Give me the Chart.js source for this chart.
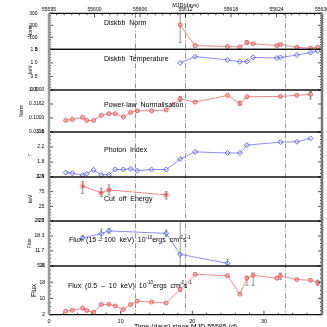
<!DOCTYPE html>
<html>
<head>
<meta charset="utf-8">
<script src="https://cdn.jsdelivr.net/npm/chart.js@4.4.1/dist/chart.umd.min.js"></script>
<style>
  html, body { margin: 0; padding: 0; background: #fff; overflow: hidden; }
  #wrap { position: relative; width: 327px; height: 327px; }
</style>
</head>
<body>
<div id="wrap"><canvas id="c" width="327" height="327"></canvas></div>
<script>
(function () {
  'use strict';

  // ---- Data (days since MJD 55595) ----
  var N = null;
  var days = [2.33, 3.25, 4.70, 5.26, 6.23, 7.30, 8.37, 9.25, 10.37, 11.39, 12.32, 14.32,
              16.36, 18.31, 20.40, 24.92, 26.64, 27.62, 28.50, 31.80, 32.30, 34.60, 36.50, 37.50];

  var diskNorm    = [N, N, N, N, N, N, N, N, N, N, N, N, N, 203, 31, 23, 20, 57, 46, 31, 40, 17, 9, 17];
  var diskTemp    = [N, N, N, N, N, N, N, N, N, N, N, N, N, 1.00, 1.23, 1.11, 1.04, 1.05, 1.20, 1.18, 1.20, 1.29, 1.38, 1.44];
  var plNorm      = [0.082, 0.089, 0.105, 0.082, 0.082, 0.124, 0.143, 0.143, 0.109, 0.158, 0.182, 0.180,
                     0.193, 0.48, 0.37, 0.645, 0.33, 0.575, N, N, 0.59, 0.645, 0.70, N];
  var photonIndex = [1.52, 1.50, 1.45, 1.49, 1.59, 1.46, 1.46, 1.60, 1.60, 1.62, 1.57, 1.60,
                     1.60, 1.88, 2.07, 2.04, 2.04, 2.25, N, N, 2.33, 2.34, 2.43, N];
  var cutoffE     = [N, N, 94, N, N, 71, 81, N, N, N, N, N, 64, N, N, N, N, N, N, N, N, N, N, N];
  var hardFlux    = [N, N, 17.5, N, N, 19.4, 20.6, N, N, N, N, N, 19.5, 10.2, N, 6.2, N, N, N, N, N, N, N, N];
  var softFlux    = [3.7, 4.2, 5.2, 4.1, 3.2, 7.0, 7.2, 6.3, 4.6, 7.0, 8.7, 8.2,
                     7.8, 14.5, 21.9, 21.2, 12.1, 20.0, 21.4, 20.0, 21.2, 19.3, 19.0, 17.8];

  // error bars: [index into days, low, high]
  var diskNormErr = [[13, 57, 298], [17, 42, 72]];
  var plNormErr   = [[13, 0.39, 0.59], [16, 0.28, 0.40], [22, 0.48, 0.89]];
  var cutoffErr   = [[2, 69, 109], [5, 58, 86], [6, 64, 98], [12, 50, 75]];
  var hardFluxErr = [[2, 16.6, 18.5], [5, 17.2, 21.4], [6, 19.6, 21.6], [12, 18.2, 21.0], [13, -20, 40], [15, 5.4, 8.0]];
  var softFluxErr = [[13, 13.5, 16.8], [17, 16.5, 21.0], [18, 16.5, 22.5], [20, 19.4, 22.5], [23, 16.5, 19.0]];

  // ---- Tick values / labels ----
  var topTickLabels  = ['55595', '55600', '55606', '55612', '55618', '55624', '55630'];
  var bottomTicks    = [0, 10, 20, 30];
  var diskNormTicks  = [0, 100, 200, 300];
  var diskTempTicks  = [0, 0.5, 1.0, 1.5];
  var diskTempLabels = ['0.0', '0.5', '1.0', '1.5'];
  var plNormTicks    = [0.0316, 0.1, 0.3162, 1.0];
  var plNormLabels   = ['0.0316', '0.1000', '0.3162', '1.0000'];
  var gammaTicks     = [1.4, 1.8, 2.2, 2.6];
  var cutoffTicks    = [-25, 25, 75, 125];
  var hardFluxTicks  = [5.0, 11.7, 18.3, 25.0];
  var hardFluxLabels = ['5.0', '11.7', '18.3', '25.0'];
  var softFluxTicks  = [2, 10, 18, 26];
  var stateLines     = [12.0, 19.0, 33.0];

  // ---- Style ----
  var FAMILY = "'Liberation Sans', Arial, sans-serif";
  var RED_LINE = '#f28a8a', RED_PT = '#e0474c';
  var BLUE_LINE = '#8d8dff', BLUE_PT = '#4848e4';

  function pts(vals) {
    var out = [];
    for (var i = 0; i < days.length; i++) {
      if (vals[i] !== null) out.push({ x: days[i], y: vals[i] });
    }
    return out;
  }

  function redSet(vals, yId, style) {
    return {
      data: pts(vals), xAxisID: 'x', yAxisID: yId,
      borderColor: RED_LINE, borderWidth: 1, tension: 0, fill: false,
      pointStyle: style || 'circle', pointRadius: style ? 3 : 2,
      pointBorderColor: RED_PT, pointBackgroundColor: 'rgba(240,140,140,0.5)', pointBorderWidth: 0.8
    };
  }

  function blueSet(vals, yId) {
    return {
      data: pts(vals), xAxisID: 'x', yAxisID: yId,
      borderColor: BLUE_LINE, borderWidth: 1, tension: 0, fill: false,
      pointStyle: 'rectRot', pointRadius: 2.5,
      pointBorderColor: BLUE_PT, pointBackgroundColor: 'rgba(255,255,255,0)', pointBorderWidth: 0.8
    };
  }

  function fixY(scale) {
    scale.width = 49;
    scale.paddingTop = 0;
    scale.paddingBottom = 0;
  }

  var NO_GRID = { display: false, drawTicks: false };

  function yScale(cfg) {
    return {
      type: cfg.type || 'linear',
      position: 'left',
      stack: 'panels',
      stackWeight: cfg.h,
      weight: cfg.order,
      min: cfg.min,
      max: cfg.max,
      grid: NO_GRID,
      border: { display: false },
      afterBuildTicks: function (scale) {
        scale.ticks = cfg.ticks.map(function (v) { return { value: v }; });
      },
      afterFit: fixY,
      ticks: {
        font: { family: FAMILY, size: 5 }, color: '#000', padding: cfg.lp, autoSkip: false,
        callback: function (v, i) { return cfg.labels ? cfg.labels[i] : String(cfg.ticks[i]); }
      },
      title: {
        display: true, text: cfg.title, color: '#000',
        font: { family: FAMILY, size: cfg.titleSize || 5 },
        padding: { top: cfg.tx, bottom: 0 }
      }
    };
  }

  // panels top to bottom: id, minor subdivisions, error list
  var panels = [
    { id: 'yNorm', minor: 5, err: diskNormErr },
    { id: 'yTemp', minor: 5, err: [] },
    { id: 'yPl',   minor: 0, err: plNormErr },
    { id: 'yGam',  minor: 4, err: [] },
    { id: 'yCut',  minor: 5, err: cutoffErr },
    { id: 'yHard', minor: 4, err: hardFluxErr },
    { id: 'ySoft', minor: 4, err: softFluxErr }
  ];

  var panelText = [
    { id: 'yNorm', day: 7.67, dy: 10,   parts: [['Diskbb  Norm']] },
    { id: 'yTemp', day: 7.67, dy: 10,   parts: [['Diskbb  Temperature']] },
    { id: 'yPl',   day: 7.67, dy: 14.7, parts: [['Power-law  Normalisation']] },
    { id: 'yGam',  day: 7.67, dy: 18,   parts: [['Photon  Index']] },
    { id: 'yCut',  day: 7.67, dy: 22.3, parts: [['Cut  off  Energy']] },
    { id: 'yHard', day: 2.79, dy: 19,   parts: [['Flux  (15 \u2013 100  keV)  10'], ['-10', 1], ['ergs  cm'], ['-2', 1], ['s'], ['-1', 1]] },
    { id: 'ySoft', day: 2.65, dy: 19.7, parts: [['Flux  (0.5  \u2013  10  keV)  10'], ['-10', 1], ['ergs  cm'], ['-2', 1], ['s'], ['-1', 1]] }
  ];

  function drawTick(ctx, x1, y1, x2, y2) {
    ctx.beginPath();
    ctx.moveTo(x1, y1);
    ctx.lineTo(x2, y2);
    ctx.stroke();
  }

  var framePlugin = {
    id: 'frame',
    beforeDatasetsDraw: function (chart) {
      var ctx = chart.ctx, area = chart.chartArea, xs = chart.scales.x;
      ctx.save();
      // state transition lines (dash-dot)
      ctx.strokeStyle = '#777';
      ctx.lineWidth = 0.8;
      ctx.setLineDash([5, 2, 1, 2]);
      stateLines.forEach(function (d) {
        var x = Math.round(xs.getPixelForValue(d)) + 0.5;
        drawTick(ctx, x, area.top, x, area.bottom);
      });
      ctx.setLineDash([]);
      // error bars, clipped per panel
      ctx.strokeStyle = '#8a8a8a';
      ctx.lineWidth = 0.9;
      panels.forEach(function (p) {
        var s = chart.scales[p.id];
        ctx.save();
        ctx.beginPath();
        ctx.rect(area.left, s.top, area.right - area.left, s.bottom - s.top);
        ctx.clip();
        p.err.forEach(function (e) {
          var x = xs.getPixelForValue(days[e[0]]);
          var y1 = s.getPixelForValue(e[1]);
          var y2 = s.getPixelForValue(e[2]);
          drawTick(ctx, x, y1, x, y2);
          drawTick(ctx, x - 1.5, y1, x + 1.5, y1);
          drawTick(ctx, x - 1.5, y2, x + 1.5, y2);
        });
        ctx.restore();
      });
      ctx.restore();
    },
    afterDatasetsDraw: function (chart) {
      var ctx = chart.ctx, area = chart.chartArea, xs = chart.scales.x, xt = chart.scales.x2;
      ctx.save();
      ctx.strokeStyle = '#000';
      ctx.lineWidth = 0.7;

      // y tick marks (inward, both sides)
      panels.forEach(function (p) {
        var s = chart.scales[p.id];
        var vals = s.ticks.map(function (t) { return t.value; });
        vals.forEach(function (v, i) {
          var y = s.getPixelForValue(v);
          drawTick(ctx, area.left, y, area.left + 4, y);
          drawTick(ctx, area.right, y, area.right - 4, y);
          if (p.minor && i < vals.length - 1) {
            for (var k = 1; k < p.minor; k++) {
              var ym = s.getPixelForValue(v + (vals[i + 1] - v) * k / p.minor);
              drawTick(ctx, area.left, ym, area.left + 2, ym);
              drawTick(ctx, area.right, ym, area.right - 2, ym);
            }
          }
        });
      });

      // bottom ticks
      for (var d = 0; d <= 38; d += 2) {
        var xb = xs.getPixelForValue(d);
        var len = d % 10 === 0 ? 4 : 2;
        drawTick(ctx, xb, area.bottom, xb, area.bottom - len);
      }
      // top ticks
      for (var j = 0; j < topTickLabels.length; j++) {
        var xt0 = xt.getPixelForValue(j);
        drawTick(ctx, xt0, area.top, xt0, area.top + 4);
        if (j < topTickLabels.length - 1) {
          var xt1 = xt.getPixelForValue(j + 1);
          for (var m = 1; m < 6; m++) {
            var xm = xt0 + (xt1 - xt0) * m / 6;
            drawTick(ctx, xm, area.top, xm, area.top + 2);
          }
        }
      }

      // panel separators
      ctx.strokeStyle = '#111';
      ctx.lineWidth = 1.2;
      panels.forEach(function (p) {
        var s = chart.scales[p.id];
        drawTick(ctx, area.left, s.top, area.right, s.top);
        drawTick(ctx, area.left, s.bottom, area.right, s.bottom);
      });
      // left / right axes
      ctx.strokeStyle = '#9a9a9a';
      ctx.lineWidth = 2.5;
      drawTick(ctx, area.left, area.top, area.left, area.bottom);
      ctx.strokeStyle = '#777';
      drawTick(ctx, area.right, area.top, area.right, area.bottom);

      // panel captions
      ctx.fillStyle = '#000';
      ctx.textBaseline = 'middle';
      ctx.textAlign = 'left';
      panelText.forEach(function (t) {
        var s = chart.scales[t.id];
        var x = xs.getPixelForValue(t.day);
        var y = s.top + t.dy;
        t.parts.forEach(function (part) {
          var sup = part[1];
          ctx.font = (sup ? 4.5 : 7) + 'px ' + FAMILY;
          ctx.fillText(part[0], x, sup ? y - 2.5 : y);
          x += ctx.measureText(part[0]).width;
        });
      });
      ctx.restore();
    }
  };

  new Chart(document.getElementById('c'), {
    type: 'line',
    data: {
      datasets: [
        redSet(diskNorm, 'yNorm'),
        blueSet(diskTemp, 'yTemp'),
        redSet(plNorm, 'yPl'),
        blueSet(photonIndex, 'yGam'),
        redSet(cutoffE, 'yCut', 'star'),
        blueSet(hardFlux, 'yHard'),
        redSet(softFlux, 'ySoft')
      ]
    },
    options: {
      responsive: false,
      animation: false,
      devicePixelRatio: 1,
      layout: { padding: { left: 0, right: 5, top: 0, bottom: 0 } },
      plugins: { legend: { display: false }, tooltip: { enabled: false } },
      scales: {
        x: {
          type: 'linear', position: 'bottom', min: 0, max: 38.1,
          grid: NO_GRID, border: { display: false },
          afterBuildTicks: function (scale) {
            scale.ticks = bottomTicks.map(function (v) { return { value: v }; });
          },
          afterFit: function (scale) { scale.height = 12.3; scale.paddingLeft = 0; scale.paddingRight = 0; },
          ticks: {
            font: { family: FAMILY, size: 5.5 }, color: '#000', padding: 3.5, maxRotation: 0, autoSkip: false,
            callback: function (v) { return String(v); }
          },
          title: {
            display: true, text: 'Time (days) since MJD 55595 (d)', color: '#000',
            font: { family: FAMILY, size: 7 }, padding: { top: 0, bottom: -4.6 }
          }
        },
        x2: {
          type: 'category', position: 'top', labels: topTickLabels, offset: false,
          grid: NO_GRID, border: { display: false },
          afterFit: function (scale) { scale.height = 13.3; scale.paddingLeft = 0; scale.paddingRight = 0; },
          ticks: { font: { family: FAMILY, size: 5 }, color: '#000', padding: 0.5, maxRotation: 0, autoSkip: false },
          title: {
            display: true, text: 'MJD(days)', color: '#000',
            font: { family: FAMILY, size: 5.5 }, padding: { top: 2.2, bottom: 0 }
          }
        },
        yNorm: yScale({ order: 7, h: 36,   min: 0,      max: 300, ticks: diskNormTicks, title: 'Norm', tx: 28, lp: 11.5 }),
        yTemp: yScale({ order: 6, h: 40.7, min: 0,      max: 1.5, ticks: diskTempTicks, labels: diskTempLabels, title: 'keV', tx: 28, lp: 11.5 }),
        yPl:   yScale({ order: 5, h: 42,   min: 0.0316, max: 1.0, type: 'logarithmic', ticks: plNormTicks, labels: plNormLabels, title: 'Norm', tx: 19, lp: 4.7 }),
        yGam:  yScale({ order: 4, h: 45,   min: 1.4,    max: 2.6, ticks: gammaTicks, title: '\u0393', tx: 28, lp: 4.7 }),
        yCut:  yScale({ order: 3, h: 44,   min: -25,    max: 125, ticks: cutoffTicks, title: 'keV', tx: 28, lp: 4.7 }),
        yHard: yScale({ order: 2, h: 45,   min: 5,      max: 25,  ticks: hardFluxTicks, labels: hardFluxLabels, title: 'Flux', tx: 26.5, lp: 4.7 }),
        ySoft: yScale({ order: 1, h: 48.7, min: 2,      max: 26,  ticks: softFluxTicks, title: 'Flux', tx: 30, titleSize: 7, lp: 4 })
      }
    },
    plugins: [framePlugin]
  });
})();
</script>
</body>
</html>
